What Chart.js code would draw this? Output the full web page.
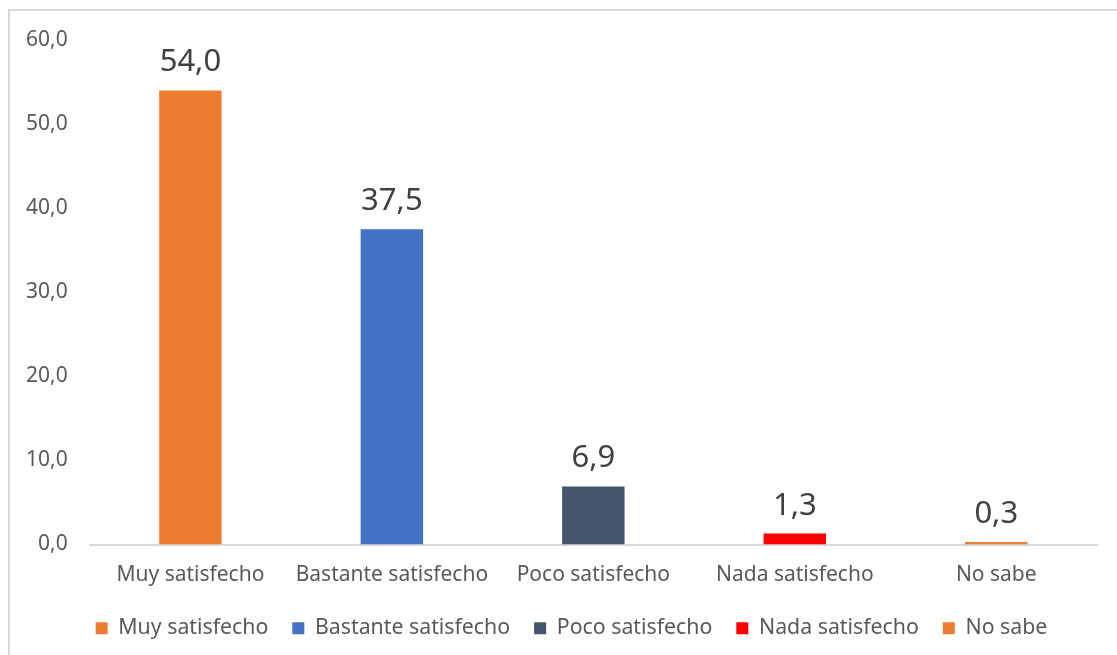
<!DOCTYPE html>
<html>
<head>
<meta charset="utf-8">
<script src="https://cdn.jsdelivr.net/npm/chart.js@4.4.1/dist/chart.umd.min.js"></script>
<style>
html,body{margin:0;padding:0;background:#fff;}
#wrap{position:relative;width:1117px;height:655px;}
</style>
</head>
<body>
<div id="wrap"><canvas id="c" width="1117" height="655"></canvas></div>
<script>
const categories = ["Muy satisfecho","Bastante satisfecho","Poco satisfecho","Nada satisfecho","No sabe"];
const values = [54.0, 37.5, 6.9, 1.3, 0.3];
const colors = ["#ED7D31","#4472C4","#44546A","#FF0000","#ED7D31"];
const yTicks = [0, 10, 20, 30, 40, 50, 60];

const fmt = v => Number(v).toFixed(1).replace('.', ',');

const frame = {
  id: 'frame',
  beforeDraw(chart) {
    const ctx = chart.ctx;
    ctx.save();
    ctx.fillStyle = '#fff';
    ctx.fillRect(0, 0, chart.width, chart.height);
    ctx.strokeStyle = '#d9d9d9';
    ctx.lineWidth = 2;
    ctx.beginPath();
    ctx.moveTo(9, chart.height + 5);
    ctx.lineTo(9, 10);
    ctx.lineTo(chart.width + 5, 10);
    ctx.stroke();
    ctx.restore();
  },
  afterLayout(chart) {
    const dx = 21;
    chart.legend.left += dx;
    chart.legend.right += dx;
  }
};

const dataLabels = {
  id: 'dataLabels',
  afterDatasetsDraw(chart) {
    const ctx = chart.ctx;
    const meta = chart.getDatasetMeta(0);
    ctx.save();
    ctx.font = '31px "Noto Sans", sans-serif';
    ctx.fillStyle = '#404040';
    ctx.textAlign = 'center';
    ctx.textBaseline = 'alphabetic';
    meta.data.forEach((bar, i) => {
      ctx.fillText(fmt(chart.data.datasets[0].data[i]), bar.x, bar.y - 19);
    });
    ctx.restore();
  }
};

new Chart(document.getElementById('c'), {
  type: 'bar',
  data: {
    labels: categories,
    datasets: [{
      data: values,
      backgroundColor: colors,
      borderWidth: 0,
      categoryPercentage: 1.0,
      barPercentage: 0.31
    }]
  },
  options: {
    responsive: false,
    animation: false,
    layout: { padding: { top: 40, left: 4, right: 20, bottom: 6 } },
    plugins: {
      tooltip: { enabled: false },
      legend: {
        position: 'bottom',
        labels: {
          font: { family: '"Noto Sans", sans-serif', size: 21.3 },
          color: '#595959',
          boxWidth: 12,
          boxHeight: 12,
          padding: 24,
          generateLabels(chart) {
            return chart.data.labels.map((l, i) => ({
              text: l,
              fillStyle: colors[i],
              strokeStyle: colors[i],
              lineWidth: 0,
              hidden: false,
              index: i,
              fontColor: '#595959'
            }));
          }
        }
      }
    },
    scales: {
      x: {
        grid: { display: false, drawTicks: false },
        border: { color: '#d9d9d9', width: 2 },
        afterFit(scale) { scale.height -= 12; },
        ticks: {
          color: '#595959',
          font: { family: '"Noto Sans", sans-serif', size: 21 },
          padding: 18
        }
      },
      y: {
        min: 0,
        max: 60,
        afterBuildTicks(axis) { axis.ticks = yTicks.map(v => ({ value: v })); },
        grid: { display: false, drawTicks: false },
        border: { display: false },
        ticks: {
          color: '#595959',
          font: { family: '"Noto Sans", sans-serif', size: 21 },
          padding: 22,
          callback: v => fmt(v)
        }
      }
    }
  },
  plugins: [frame, dataLabels]
});
</script>
</body>
</html>
